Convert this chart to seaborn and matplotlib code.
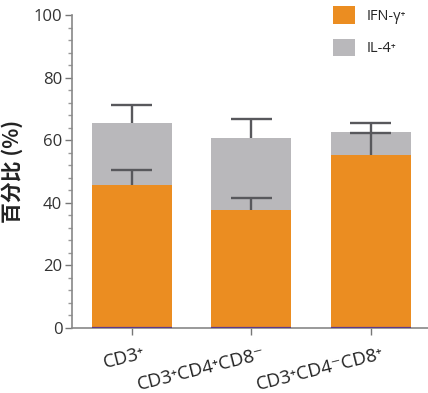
import matplotlib
matplotlib.use("Agg")
import matplotlib.pyplot as plt
from matplotlib.ticker import MultipleLocator
import matplotlib.transforms as mtransforms
import seaborn as sns
import pandas as pd
import numpy as np

categories = ["CD3⁺", "CD3⁺CD4⁺CD8⁻", "CD3⁺CD4⁻CD8⁺"]
ifn = [45.7, 37.7, 55.4]
il4 = [19.8, 23.0, 7.1]
ifn_err = [4.9, 3.8, 7.0]
total_err = [5.8, 6.1, 3.0]
series_names = ["IFN-γ⁺", "IL-4⁺"]

orange = "#EB8D21"
gray = "#B9B8BB"
errc = "#58585C"

sns.set_theme(style="ticks")
plt.rcParams['font.family'] = ['Open Sans', 'DejaVu Sans']

total = [a + b for a, b in zip(ifn, il4)]
df = pd.DataFrame({"cat": categories, "ifn": ifn, "total": total})

fig = plt.figure(figsize=(4.28, 3.93), dpi=100)
ax = fig.add_axes([72/428, 1 - 328/393, 356/428, 313/393])

sns.barplot(data=df, x="cat", y="total", color=gray, saturation=1, width=0.67,
            ax=ax, label=series_names[1], zorder=2, linewidth=0)
sns.barplot(data=df, x="cat", y="ifn", color=orange, saturation=1, width=0.67,
            ax=ax, label=series_names[0], zorder=2, linewidth=0)

x = np.arange(len(categories))
capw = 0.17
for base, err in ((ifn, ifn_err), (total, total_err)):
    tops = np.array(base) + np.array(err)
    ax.vlines(x, base, tops, color=errc, lw=1.7, zorder=4)
    ax.hlines(tops, x - capw, x + capw, color=errc, lw=1.7, zorder=4)

# thin purple baseline under each bar
for p in ax.patches[:3]:
    ax.plot([p.get_x(), p.get_x() + p.get_width()], [0, 0], color="#5B3A8C",
            lw=1.6, zorder=5, solid_capstyle="butt")

ax.set_ylim(0, 100)
ax.set_xlim(-0.5, 2.48)
ax.yaxis.set_major_locator(MultipleLocator(20))
ax.yaxis.set_minor_locator(MultipleLocator(4))
ax.tick_params(axis="y", which="major", length=5, width=1, color="#777777",
               labelsize=12, labelcolor="#333333", pad=2)
ax.tick_params(axis="y", which="minor", length=3, width=1, color="#999999")
ax.tick_params(axis="x", length=5, width=1, color="#777777", labelsize=13.5,
               labelcolor="#222222", pad=4)
ax.set_xticks(x)
ax.set_xticklabels(categories, rotation=14, ha="right", rotation_mode="anchor")
offset = mtransforms.ScaledTranslation(11/100, -4/100, fig.dpi_scale_trans)
for lbl in ax.get_xticklabels():
    lbl.set_transform(lbl.get_transform() + offset)
ax.set_xlabel("")
ax.set_ylabel("百分比 (%)", fontsize=15, fontweight="semibold",
              family=['Noto Sans CJK SC', 'DejaVu Sans'], labelpad=8, color="#222222")
for s in ["top", "right"]:
    ax.spines[s].set_visible(False)
for s in ["left", "bottom"]:
    ax.spines[s].set_color("#888888")
    ax.spines[s].set_linewidth(1.2)

handles, labels = ax.get_legend_handles_labels()
order = [labels.index(series_names[0]), labels.index(series_names[1])]
leg = ax.legend([handles[i] for i in order], [labels[i] for i in order],
                loc="upper right", bbox_to_anchor=(0.975, 1.07), frameon=True,
                fancybox=False, edgecolor="white", facecolor="white", framealpha=1,
                fontsize=10.5, handlelength=1.5, handleheight=1.5, handletextpad=0.8,
                labelspacing=1.0, borderpad=0.4)
leg.set_zorder(10)

fig.savefig("out.png", dpi=100)
